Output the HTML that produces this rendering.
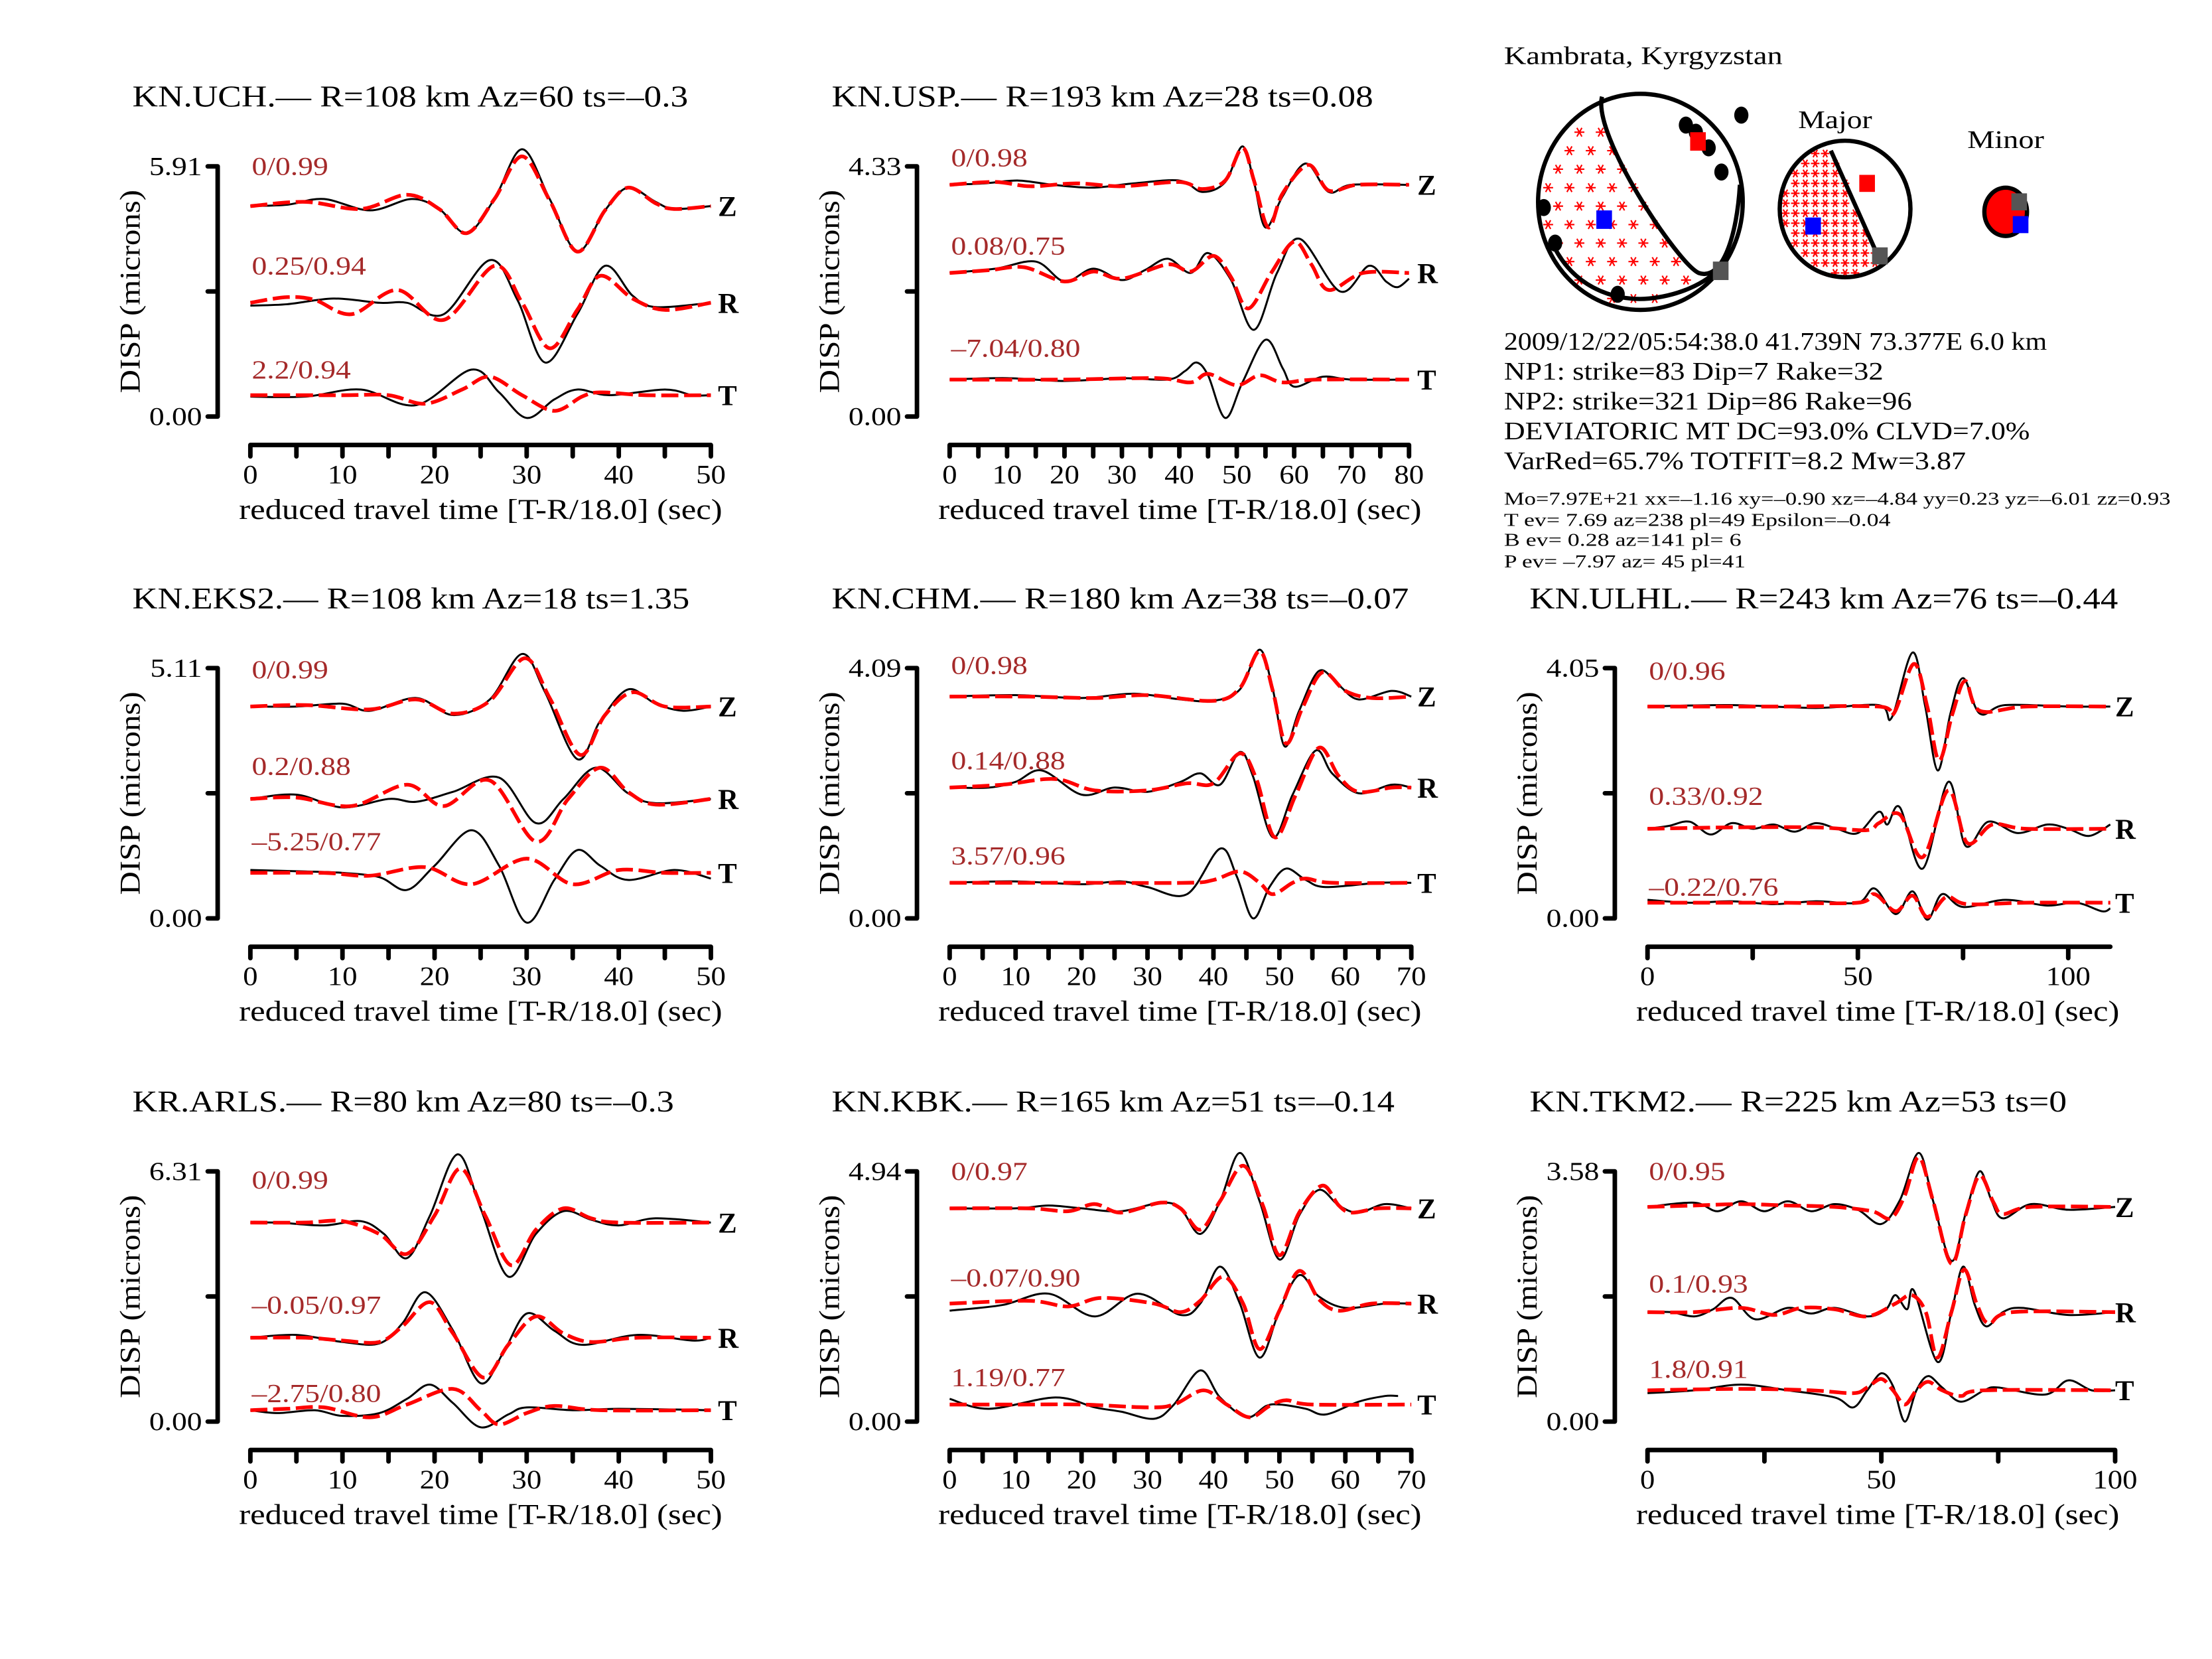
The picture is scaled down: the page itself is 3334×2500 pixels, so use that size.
<!DOCTYPE html>
<html><head><meta charset="utf-8">
<style>
html,body{margin:0;padding:0;background:#fff;}
svg{display:block;font-family:"Liberation Serif",serif;}
</style></head>
<body>
<svg id="chart" xmlns="http://www.w3.org/2000/svg" width="3334" height="2500" viewBox="0 0 1556 1167">
<rect width="1556" height="1167" fill="#fff"/>
<g id="panels"></g>
<g id="info">
  <text x="1058" y="45" font-size="18" textLength="196" lengthAdjust="spacingAndGlyphs">Kambrata, Kyrgyzstan</text>
  <text x="1265" y="90" font-size="18" textLength="52" lengthAdjust="spacingAndGlyphs">Major</text>
  <text x="1384" y="104" font-size="18" textLength="54" lengthAdjust="spacingAndGlyphs">Minor</text>
  <g font-size="18">
  <text x="1058" y="246" textLength="382" lengthAdjust="spacingAndGlyphs">2009/12/22/05:54:38.0 41.739N 73.377E 6.0 km</text>
  <text x="1058" y="267" textLength="267" lengthAdjust="spacingAndGlyphs">NP1: strike=83 Dip=7 Rake=32</text>
  <text x="1058" y="288" textLength="287" lengthAdjust="spacingAndGlyphs">NP2: strike=321 Dip=86 Rake=96</text>
  <text x="1058" y="309" textLength="370" lengthAdjust="spacingAndGlyphs">DEVIATORIC MT DC=93.0% CLVD=7.0%</text>
  <text x="1058" y="330" textLength="325" lengthAdjust="spacingAndGlyphs">VarRed=65.7% TOTFIT=8.2 Mw=3.87</text>
  </g>
  <g font-size="13">
  <text x="1058" y="355" textLength="469" lengthAdjust="spacingAndGlyphs">Mo=7.97E+21 xx=–1.16 xy=–0.90 xz=–4.84 yy=0.23 yz=–6.01 zz=0.93</text>
  <text x="1058" y="370" textLength="272" lengthAdjust="spacingAndGlyphs">T ev=  7.69 az=238 pl=49 Epsilon=–0.04</text>
  <text x="1058" y="384" textLength="167" lengthAdjust="spacingAndGlyphs">B ev=  0.28 az=141 pl= 6</text>
  <text x="1058" y="399" textLength="170" lengthAdjust="spacingAndGlyphs">P ev= –7.97 az= 45 pl=41</text>
  </g>
</g>
<g id="balls"></g>
</svg>
<script>
// ---- data: [time(sec), amplitude(px-units above trace baseline)] ----
const UCH_Z_obs=[[0,0],[4,1],[8,5],[13,-3],[17.5,5],[20.5,-2],[23.5,-19],[26.5,5],[29.5,40],[32.5,5],[35.5,-32],[38.5,-3],[41,13],[44,3],[46,-2],[50,0]];
const UCH_Z_syn=[[0,0],[6,3],[12,-2],[17,8],[20.5,-2],[23.5,-19],[26.5,5],[29.5,35],[32.5,4],[35.5,-32],[38.5,-3],[41,13],[44,2],[46,-2],[50,0]];
const UCH_R_obs=[[0,-2],[4,-1],[9,3],[14,0],[17,0],[21,-8],[26,30],[29,2],[32,-42],[35.5,-8],[38.5,26],[41.5,5],[44,-3],[50,0]];
const UCH_R_syn=[[0,0],[4,4],[7,2],[11,-8],[16,9],[21,-12],[26.5,26],[29.5,0],[32.5,-32],[35.5,-5],[38,19],[41.5,3],[45,-5],[50,0]];
const UCH_T_obs=[[0,-1],[6,-1],[12,4],[18,-7],[24,18],[27,2],[30,-16],[33,-3],[35.5,4],[39,0],[45,4],[48,0],[50,0]];
const UCH_T_syn=[[0,0],[10,0],[15,0],[19,-6],[23,4],[26,13],[29.5,0],[33,-11],[36,-1],[38,2],[43,0],[50,0]];

const USP_Z_obs=[[0,0],[6,1],[12,3],[18,0],[25,-2],[32,1],[40,3],[44,-5],[48,2],[51,27],[53,2],[55,-30],[58,-8],[62,15],[66,-5],[70,0],[80,0]];
const USP_Z_syn=[[0,0],[8,2],[14,-1],[22,1],[30,-1],[40,2],[44,-3],[48,3],[51,26],[53,3],[55.5,-30],[58,-6],[62.5,14],[66,-4],[71,0],[80,0]];
const USP_R_obs=[[0,0],[8,3],[15,8],[20,-6],[25,3],[30,-5],[34,2],[38,10],[42,0],[45,14],[49,-5],[53,-40],[57,0],[61,24],[68,-13],[73,5],[76,-6],[78,-10],[80,-4]];
const USP_R_syn=[[0,0],[7,2],[13,4],[20,-6],[25,1],[30,-4],[38,6],[42,1],[46,12],[49,-3],[52,-25],[56,0],[60,22],[63,6],[66,-12],[72,0],[80,0]];
const USP_T_obs=[[0,0],[10,1],[20,-1],[30,1],[38,0],[41,6],[43,12],[45,3],[48,-27],[51,-2],[55,28],[58,8],[60,-5],[65,2],[70,0],[80,0]];
const USP_T_syn=[[0,0],[20,0],[36,1],[42,-2],[45,4],[50,-4],[54,3],[58,-2],[64,0],[80,0]];

const EKS_Z_obs=[[0,0],[5,0],[10,2],[13,-3],[18,6],[22,-6],[26,5],[29.5,37],[32,10],[35.5,-37],[38,-10],[41,12],[44,2],[47,-3],[50,0]];
const EKS_Z_syn=[[0,0],[6,1],[13,-2],[18,5],[22,-5],[26,4],[29.8,34],[32.5,6],[35.8,-34],[38.5,-6],[41.5,10],[45,0],[50,0]];
const EKS_R_obs=[[0,0],[5,3],[10,-6],[15,0],[18,-2],[22,5],[27,15],[31,-17],[34,0],[37.5,22],[41,4],[44,-3],[50,0]];
const EKS_R_syn=[[0,0],[5,1],[11,-5],[17,10],[21,-5],[26,13],[31,-30],[34.5,0],[38,22],[41,5],[44,-4],[50,0]];
const EKS_T_obs=[[0,2],[6,1],[10,0],[14,-3],[17,-12],[20,5],[24,30],[27,5],[30,-35],[33,-5],[35.5,16],[38,5],[41,-5],[46,2],[50,-4]];
const EKS_T_syn=[[0,0],[8,0],[13,-2],[19,4],[24,-8],[30,10],[35,-8],[40,2],[45,0],[50,0]];

const CHM_Z_obs=[[0,0],[10,1],[20,-1],[28,2],[35,-2],[40,-3],[44,5],[47,33],[49,5],[50.8,-35],[53,-10],[56,18],[59,8],[62,-2],[67,4],[70,0]];
const CHM_Z_syn=[[0,0],[12,0],[22,-1],[30,1],[40,-3],[44,6],[47,32],[49,4],[51,-33],[53.5,-8],[56.5,17],[60,4],[64,-1],[70,0]];
const CHM_R_obs=[[0,0],[6,0],[10,4],[14,12],[20,-5],[25,0],[30,-3],[35,4],[38,10],[41,2],[44,25],[46,8],[49,-35],[52,-5],[55.5,26],[58,10],[62,-4],[67,2],[70,0]];
const CHM_R_syn=[[0,0],[8,2],[16,6],[22,-2],[30,-2],[36,3],[40,3],[44,24],[46.5,6],[49.3,-35],[52.5,-5],[56,28],[59,8],[62,-3],[67,0],[70,0]];
const CHM_T_obs=[[0,0],[10,1],[20,-1],[26,1],[30,-3],[36,-8],[41,24],[43.5,5],[46,-25],[48.5,-3],[51,10],[54,2],[57,-3],[65,0],[70,0]];
const CHM_T_syn=[[0,0],[20,0],[36,0],[40,2],[44,8],[47,0],[49,-8],[52,0],[54,3],[58,0],[70,0]];

const ULH_Z_obs=[[0,0],[20,1],[40,-1],[55,1],[58,-8],[63,38],[66,0],[69,-45],[72,-5],[75,20],[79,-5],[85,1],[100,0],[110,0]];
const ULH_Z_syn=[[0,0],[30,0],[55,0],[58.5,-5],[63.3,30],[66.5,0],[69.3,-38],[72.5,-5],[75.5,18],[79,-3],[90,0],[110,0]];
const ULH_R_obs=[[0,0],[5,2],[10,5],[15,-4],[20,4],[25,0],[30,3],[35,-2],[40,4],[45,0],[50,-3],[55,12],[57,3],[60,15],[65.4,-28],[71.5,33],[75.6,-12],[81,5],[88,-3],[95,3],[100,0],[105,-5],[110,3]];
const ULH_R_syn=[[0,0],[20,1],[40,1],[52,-1],[55,4],[60,10],[65.4,-20],[71.5,27],[76,-10],[82,3],[90,0],[110,0]];
const ULH_T_obs=[[0,2],[10,0],[20,1],[30,-1],[40,1],[50,0],[54,10],[59,-8],[63,8],[66.5,-12],[70,6],[75,-3],[85,2],[95,-2],[102,0],[108,-6],[110,-4]];
const ULH_T_syn=[[0,0],[30,0],[50,0],[54,6],[59,-6],[63,5],[66.5,-10],[71,4],[76,-1],[90,0],[110,0]];

const ARL_Z_obs=[[0,0],[3,0],[8,-2],[12,1],[14.5,-8],[17,-25],[19.5,5],[22.5,48],[25,10],[28,-38],[31,-8],[34,8],[37,2],[40,-2],[44,3],[50,0]];
const ARL_Z_syn=[[0,0],[6,0],[10,1],[14,-8],[17,-22],[20,5],[22.8,38],[25.5,5],[28.3,-30],[31,-5],[34,10],[37,3],[40,0],[50,0]];
const ARL_R_obs=[[0,0],[5,2],[10,-3],[14,-4],[16.5,10],[19,32],[22,5],[25,-32],[27.5,-10],[30,17],[33,5],[36,-5],[42,2],[48,-2],[50,0]];
const ARL_R_syn=[[0,0],[6,0],[10,-2],[14,-3],[16.5,8],[19.5,25],[22,3],[25.3,-28],[28,-5],[31,15],[34,3],[37,-3],[42,0],[50,0]];
const ARL_T_obs=[[0,0],[3,-2],[7,0],[10,-4],[14,-2],[17,8],[19.5,18],[22,5],[25,-12],[28,-3],[30,2],[35,0],[40,1],[50,0]];
const ARL_T_syn=[[0,0],[4,1],[8,2],[13,-5],[17,4],[22,15],[25,0],[27,-10],[30,-2],[33,3],[38,0],[50,0]];

const KBK_Z_obs=[[0,0],[10,0],[15,2],[20,0],[26,-2],[32,4],[35,0],[38,-18],[41,5],[44,39],[47,5],[50,-36],[53,-5],[56,13],[59,2],[62,-3],[66,3],[70,0]];
const KBK_Z_syn=[[0,0],[12,0],[18,-2],[22,3],[26,-3],[32,4],[35,0],[38,-15],[41,5],[44.5,30],[47.5,2],[50,-33],[53,-3],[56.5,16],[59,2],[61,-3],[65,0],[70,0]];
const KBK_R_obs=[[0,-5],[8,-1],[15,7],[22,-9],[28.5,7],[35,-8],[38,0],[41,26],[44,0],[47,-38],[50,-5],[53,20],[56,5],[60,-3],[66,0],[70,0]];
const KBK_R_syn=[[0,0],[12,2],[18,-2],[23,4],[31,0],[35,-6],[38,2],[41.5,19],[44.5,0],[47,-32],[50,-5],[53,23],[56,3],[59,-5],[64,0],[70,0]];
const KBK_T_obs=[[0,4],[6,-3],[16,5],[22,-2],[26,-5],[31,-10],[34,0],[38,24],[41,5],[45,-9],[48,-1],[50,0],[54,-3],[57,-7],[62,2],[66,6],[68,6]];
const KBK_T_syn=[[0,0],[10,0],[20,0],[30,-2],[34,0],[38.5,10],[42,0],[45.5,-9],[48.5,-1],[51,3],[55,0],[70,0]];

const TKM_Z_obs=[[0,0],[10,3],[15,-3],[20,4],[25,-3],[30,4],[35,-3],[40,2],[45,-2],[50,-12],[54,5],[58,38],[61,5],[65,-38],[68,-5],[71,25],[73.5,5],[76,-8],[82,2],[90,-2],[100,0]];
const TKM_Z_syn=[[0,0],[10,1],[20,2],[30,1],[40,0],[48,-3],[52,-8],[55,8],[58,35],[61,5],[65,-40],[68,-6],[71,22],[74,3],[76,-5],[82,0],[100,0]];
const TKM_R_obs=[[0,0],[5,0],[10,-3],[14,2],[18,10],[23,-5],[30,3],[35,-1],[40,3],[47,-3],[51,2],[53,12],[55.5,2],[57,15],[62,-35],[65,0],[67.5,32],[70,5],[72.4,-10],[76,0],[80,3],[90,-2],[100,0]];
const TKM_R_syn=[[0,0],[10,0],[20,3],[27,-2],[33,3],[40,2],[47,-3],[53,6],[56.5,12],[59.5,0],[62,-32],[65,0],[67.7,30],[70.5,5],[73,-8],[78,0],[100,0]];
const TKM_T_obs=[[0,-2],[10,0],[20,4],[30,0],[40,-5],[44,-12],[47,0],[50,12],[52.5,3],[55,-22],[57.5,0],[60,10],[63,2],[67,-8],[72,0],[75,2],[85,-3],[90,7],[95,0],[100,0]];
const TKM_T_syn=[[0,0],[20,1],[35,0],[44,-2],[47,2],[50,8],[52.5,0],[55,-10],[57.5,0],[60,6],[63,0],[67,-4],[72,0],[100,0]];

const stationTitles=["KN.UCH.— R=108 km Az=60 ts=–0.3","KN.USP.— R=193 km Az=28 ts=0.08","KN.EKS2.— R=108 km Az=18 ts=1.35","KN.CHM.— R=180 km Az=38 ts=–0.07","KN.ULHL.— R=243 km Az=76 ts=–0.44","KR.ARLS.— R=80 km Az=80 ts=–0.3","KN.KBK.— R=165 km Az=51 ts=–0.14","KN.TKM2.— R=225 km Az=53 ts=0"];
const yMaxLabels=["5.91","4.33","5.11","4.09","4.05","6.31","4.94","3.58"];
const fitScores=[["0/0.99","0.25/0.94","2.2/0.94"],["0/0.98","0.08/0.75","–7.04/0.80"],["0/0.99","0.2/0.88","–5.25/0.77"],["0/0.98","0.14/0.88","3.57/0.96"],["0/0.96","0.33/0.92","–0.22/0.76"],["0/0.99","–0.05/0.97","–2.75/0.80"],["0/0.97","–0.07/0.90","1.19/0.77"],["0/0.95","0.1/0.93","1.8/0.91"]];
const timeSpans=[50,80,50,70,110,50,70,100];
const tickLabelSets=[[0,10,20,30,40,50],[0,10,20,30,40,50,60,70,80],[0,10,20,30,40,50],[0,10,20,30,40,50,60,70],[0,50,100],[0,10,20,30,40,50],[0,10,20,30,40,50,60,70],[0,50,100]];
const traceSets=[
 [[UCH_Z_obs,UCH_Z_syn],[UCH_R_obs,UCH_R_syn],[UCH_T_obs,UCH_T_syn]],
 [[USP_Z_obs,USP_Z_syn],[USP_R_obs,USP_R_syn],[USP_T_obs,USP_T_syn]],
 [[EKS_Z_obs,EKS_Z_syn],[EKS_R_obs,EKS_R_syn],[EKS_T_obs,EKS_T_syn]],
 [[CHM_Z_obs,CHM_Z_syn],[CHM_R_obs,CHM_R_syn],[CHM_T_obs,CHM_T_syn]],
 [[ULH_Z_obs,ULH_Z_syn],[ULH_R_obs,ULH_R_syn],[ULH_T_obs,ULH_T_syn]],
 [[ARL_Z_obs,ARL_Z_syn],[ARL_R_obs,ARL_R_syn],[ARL_T_obs,ARL_T_syn]],
 [[KBK_Z_obs,KBK_Z_syn],[KBK_R_obs,KBK_R_syn],[KBK_T_obs,KBK_T_syn]],
 [[TKM_Z_obs,TKM_Z_syn],[TKM_R_obs,TKM_R_syn],[TKM_T_obs,TKM_T_syn]]];

// ---- layout (not data) ----
const titleWidths=[391,381,392,406,414,381,396,378];
const layout=[
 {x0:176,pps:6.48,top:117,minor:5,bases:[145,213,278],lab:[123,193,266]},
 {x0:668,pps:4.04,top:117,minor:5,bases:[130,192,267],lab:[117,179,251]},
 {x0:176,pps:6.48,top:470,minor:5,bases:[497,562,614],lab:[477,545,598]},
 {x0:668,pps:4.64,top:470,minor:5,bases:[490,554,621],lab:[474,541,608]},
 {x0:1159,pps:2.96,top:470,minor:25,bases:[497,583,635],lab:[478,566,630]},
 {x0:176,pps:6.48,top:824,minor:5,bases:[860,941,992],lab:[836,924,986]},
 {x0:668,pps:4.64,top:824,minor:5,bases:[850,917,988],lab:[830,905,975]},
 {x0:1159,pps:3.29,top:824,minor:25,bases:[849,923,978],lab:[830,909,969]}];
const comps=["Z","R","T"];
const NS="http://www.w3.org/2000/svg";
function mk(tag,attrs,parent){const e=document.createElementNS(NS,tag);for(const k in attrs)e.setAttribute(k,attrs[k]);parent.appendChild(e);return e;}
function widen(el,f){const w=el.getComputedTextLength();if(w>0){el.setAttribute("textLength",(w*f).toFixed(1));el.setAttribute("lengthAdjust","spacingAndGlyphs");}}
function fixW(el,w){el.setAttribute("textLength",w);el.setAttribute("lengthAdjust","spacingAndGlyphs");}
function smoothPath(pts){
  let d="M"+pts[0][0].toFixed(1)+","+pts[0][1].toFixed(1);
  for(let i=0;i<pts.length-1;i++){
    const p0=pts[Math.max(0,i-1)],p1=pts[i],p2=pts[i+1],p3=pts[Math.min(pts.length-1,i+2)];
    const c1=[p1[0]+(p2[0]-p0[0])/6,p1[1]+(p2[1]-p0[1])/6];
    const c2=[p2[0]-(p3[0]-p1[0])/6,p2[1]-(p3[1]-p1[1])/6];
    d+=" C"+c1[0].toFixed(1)+","+c1[1].toFixed(1)+" "+c2[0].toFixed(1)+","+c2[1].toFixed(1)+" "+p2[0].toFixed(1)+","+p2[1].toFixed(1);
  }
  return d;
}
const root=document.getElementById("panels");
layout.forEach((L,pi)=>{
  const zero=L.top+176;
  const g=mk("g",{},root);
  
  
  const xS=t=>L.x0+t*L.pps;
  const tEnd=timeSpans[pi];
  const tt=mk("text",{x:L.x0-83,y:L.top-42,"font-size":21},g);tt.textContent=stationTitles[pi];
  
  
  fixW(tt,titleWidths[pi]);
  const ax=L.x0-23;
  const ya=mk("path",{d:`M${ax},${L.top}V${zero}M${ax-7},${L.top}H${ax}M${ax-7},${(L.top+zero)/2}H${ax}M${ax-7},${zero}H${ax}`,stroke:"#000","stroke-width":3.2,fill:"none","stroke-linecap":"round"},g);
  
  
  const yl1=mk("text",{x:ax-11,y:L.top+6,"font-size":18.5,"text-anchor":"end"},g);yl1.textContent=yMaxLabels[pi];
  
  
  widen(yl1,1.15);
  const yl0=mk("text",{x:ax-11,y:zero+6,"font-size":18.5,"text-anchor":"end"},g);yl0.textContent="0.00";
  
  
  widen(yl0,1.15);
  const yt=mk("text",{x:0,y:0,"font-size":20,"text-anchor":"middle",transform:`translate(${L.x0-78},${(L.top+zero)/2}) rotate(-90)`},g);yt.textContent="DISP (microns)";
  
  
  fixW(yt,143);
  const xy=zero+20;
  let d=`M${L.x0},${xy}H${xS(tEnd)}`;
  for(let t=0;t<=tEnd+0.01;t+=L.minor){d+=`M${xS(t)},${xy}v8`;}
  const xa=mk("path",{d:d,stroke:"#000","stroke-width":3.2,fill:"none","stroke-linecap":"round"},g);
  
  
  tickLabelSets[pi].forEach(v=>{
    const tl=mk("text",{x:xS(v),y:zero+47,"font-size":19,"text-anchor":"middle"},g);tl.textContent=v;
    
    
    widen(tl,1.1);
  });
  const xt=mk("text",{x:L.x0+162,y:zero+72,"font-size":20,"text-anchor":"middle"},g);xt.textContent="reduced travel time [T-R/18.0] (sec)";
  
  
  fixW(xt,340);
  traceSets[pi].forEach((pair,ci)=>{
    const base=L.bases[ci];
    const toPts=arr=>arr.map(p=>[xS(p[0]),base-p[1]]);
    const ob=mk("path",{d:smoothPath(toPts(pair[0])),stroke:"#000","stroke-width":1.4,fill:"none"},g);
    
    
    const sy=mk("path",{d:smoothPath(toPts(pair[1])),stroke:"#ff0000","stroke-width":2.6,fill:"none","stroke-dasharray":"12,4"},g);
    
    
    const sc=mk("text",{x:L.x0+1,y:L.lab[ci],"font-size":18.5,fill:"#a52a2a"},g);sc.textContent=fitScores[pi][ci];
    
    
    widen(sc,1.15);
    const cl=mk("text",{x:L.x0+329,y:base+7,"font-size":20,"font-weight":"bold"},g);cl.textContent=comps[ci];
    
    
  });
});

// ---- beach balls (decorative) ----
const bg=document.getElementById("balls");
function star(x,y,r,parent){mk("path",{d:`M${x-r},${y}H${x+r}M${x-r*0.5},${y-r*0.87}L${x+r*0.5},${y+r*0.87}M${x+r*0.5},${y-r*0.87}L${x-r*0.5},${y+r*0.87}`,stroke:"#f00","stroke-width":1},parent);}
const mb=mk("g",{},bg);


for(let y=80;y<=212;y+=13){for(let x=1088;x<=1215;x+=15){
  const xx=x+((y/13)%2)*7;
  const dx=(xx-1154)/68,dy=(y-142)/72;if(dx*dx+dy*dy>1)continue;
  const side=(1197-1127)*(y-68)-(193-68)*(xx-1127);if(side<0)continue;
  star(xx,y,3.5,mb);}}
mk("ellipse",{cx:1154,cy:142,rx:72,ry:76,fill:"none",stroke:"#000","stroke-width":3},mb);
mk("path",{d:"M1127,68 C1120,95 1180,185 1195,192 C1212,198 1222,165 1224,130",fill:"none",stroke:"#000","stroke-width":3},mb);
mk("path",{d:"M1094,175 C1110,205 1140,212 1160,210 C1180,208 1200,200 1210,188",fill:"none",stroke:"#000","stroke-width":3},mb);
[[1225,81],[1186,88],[1193,93],[1202,104],[1211,121],[1086,146],[1094,171],[1138,207]].forEach(p=>mk("ellipse",{cx:p[0],cy:p[1],rx:5,ry:6,fill:"#000"},mb));
mk("rect",{x:1189,y:93,width:11,height:13,fill:"#f00"},mb);
mk("rect",{x:1123,y:148,width:11,height:13,fill:"#00f"},mb);
mk("rect",{x:1205,y:184,width:11,height:13,fill:"#555"},mb);
const jb=mk("g",{},bg);


for(let y=108;y<=195;y+=7){for(let x=1256;x<=1330;x+=7){
  const dx=(x-1298)/45,dy=(y-147)/47;if(dx*dx+dy*dy>1)continue;
  const side=(1322-1288)*(y-106)-(182-106)*(x-1288);if(side<0)continue;
  star(x,y,3,jb);}}
mk("ellipse",{cx:1298,cy:147,rx:46,ry:48,fill:"none",stroke:"#000","stroke-width":3},jb);
mk("path",{d:"M1288,106 L1322,182",fill:"none",stroke:"#000","stroke-width":3},jb);
mk("rect",{x:1308,y:123,width:11,height:12,fill:"#f00"},jb);
mk("rect",{x:1270,y:153,width:11,height:12,fill:"#00f"},jb);
mk("rect",{x:1317,y:174,width:11,height:12,fill:"#555"},jb);
const nb=mk("g",{},bg);


mk("ellipse",{cx:1411,cy:149,rx:15,ry:17,fill:"#f00",stroke:"#000","stroke-width":3},nb);
mk("rect",{x:1401,y:145,width:11,height:12,fill:"#f00"},nb);
mk("rect",{x:1415,y:136,width:11,height:12,fill:"#555"},nb);
mk("rect",{x:1416,y:152,width:11,height:12,fill:"#00f"},nb);
</script>
</body></html>
